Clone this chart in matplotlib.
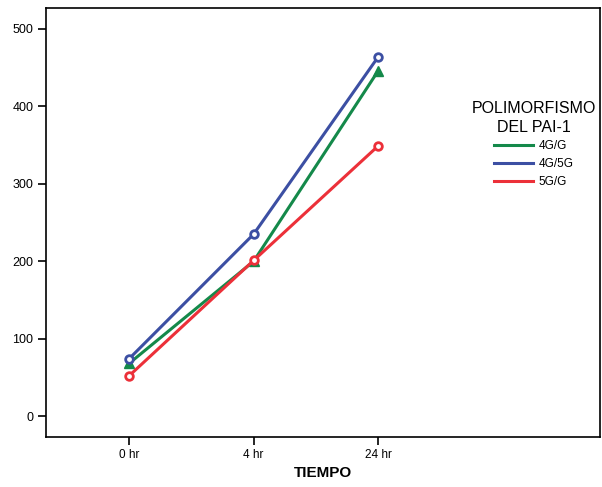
import matplotlib.pyplot as plt

plt.rcParams['font.family'] = ['Liberation Sans', 'DejaVu Sans']

# data
tiempos = ['0 hr', '4 hr', '24 hr']
grupos = ['4G/G', '4G/5G', '5G/G']
valores_4gg = [68, 200, 446]
valores_4g5g = [74, 235, 464]
valores_5gg = [52, 201, 349]

colores = ['#14894a', '#3c4fa3', '#ec3039']

fig = plt.figure(figsize=(6.02, 4.87), dpi=100)
ax = fig.add_axes([46/602, 50/487, 554/602, 429/487])

x = range(len(tiempos))
ax.plot(x, valores_4gg, color=colores[0], lw=2.2, marker='^', ms=7,
        mfc=colores[0], mec=colores[0], label=grupos[0])
ax.plot(x, valores_4g5g, color=colores[1], lw=2.2, marker='o', ms=5.5,
        mfc='white', mec=colores[1], mew=2, label=grupos[1])
ax.plot(x, valores_5gg, color=colores[2], lw=2.2, marker='o', ms=5.5,
        mfc='white', mec=colores[2], mew=2, label=grupos[2])

ax.set_xlim(-0.667, 3.78)
ax.set_ylim(-27, 527)
ax.set_xticks(list(x))
ax.set_xticklabels(tiempos)
ax.set_yticks([0, 100, 200, 300, 400, 500])
ax.tick_params(axis='both', direction='out', length=6, width=1.2, pad=3)
ax.tick_params(axis='y', labelsize=9)
ax.tick_params(axis='x', labelsize=8.5)
for s in ax.spines.values():
    s.set_linewidth(1.2)
ax.set_xlabel('TIEMPO', fontsize=11, fontweight='bold', labelpad=3)

handles = [plt.Line2D([], [], color=c, lw=2.2) for c in colores]
leg = ax.legend(handles, grupos, title='POLIMORFISMO\nDEL PAI-1', frameon=False,
                loc='upper center', bbox_to_anchor=(0.88, 0.808), fontsize=8.5,
                title_fontsize=11.5, handlelength=3.3, labelspacing=0.5,
                handletextpad=0.5)
leg.get_title().set_multialignment('center')
leg.get_title().set_linespacing(1.3)
leg._legend_box.align = 'center'

fig.savefig('out.png', dpi=100)
